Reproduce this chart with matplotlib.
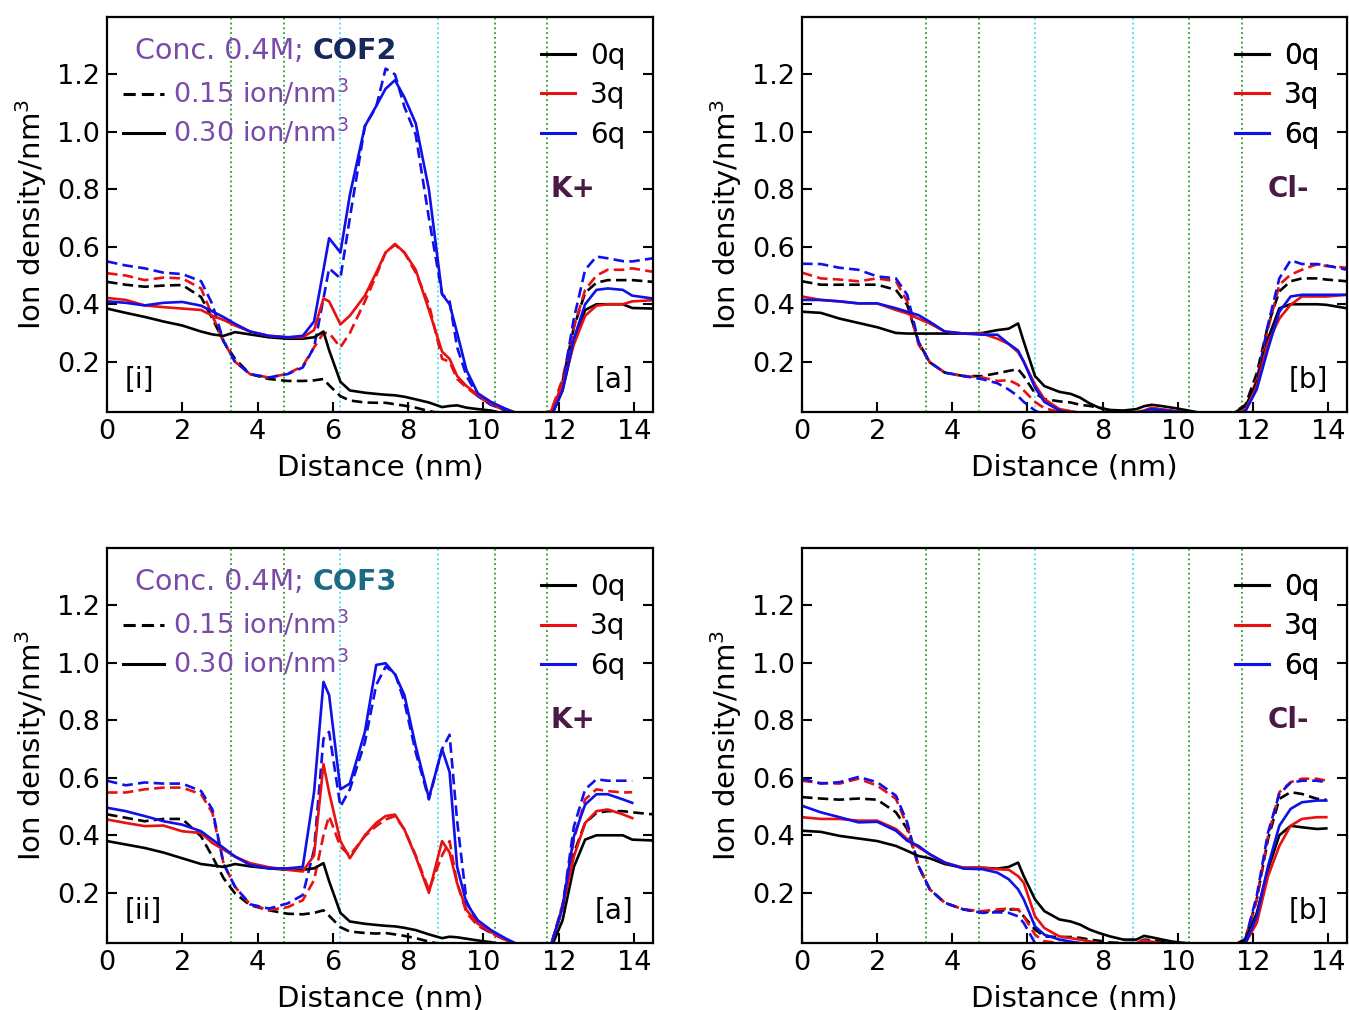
import numpy as np
import matplotlib
matplotlib.use("Agg")
import matplotlib.pyplot as plt
from matplotlib.lines import Line2D

nan = np.nan

# distance grid (nm), shared by every profile
x_nm = [0, 0.5, 1.0, 1.5, 2.0, 2.5, 2.8, 3.1, 3.4, 3.8, 4.3, 4.8, 5.2, 5.5, 5.75, 5.9, 6.2, 6.45,
        6.85, 7.15, 7.4, 7.65, 7.9, 8.2, 8.55, 8.9, 9.1, 9.3, 9.55, 9.85, 10.2, 10.6, 11.0, 11.4,
        11.8, 12.1, 12.4, 12.7, 13.0, 13.3, 13.7, 13.95, 14.5]

# COF2, K+  (015 = 0.15 ion/nm3 dashed, 030 = 0.30 ion/nm3 solid)
k2_0q_015 = [0.478, 0.468, 0.461, 0.465, 0.467, 0.425, 0.35, 0.27, 0.21, 0.157, 0.14, 0.133, 0.133, 0.135, 0.14, 0.118, 0.08, 0.065, 0.058, 0.057, 0.057, 0.052, 0.047, 0.04, 0.028, 0.02, 0.02, 0.02, 0.018, 0.016, 0.015, 0.01, 0.005, 0.003, 0.01, 0.13, 0.32, 0.44, 0.475, 0.484, 0.484, 0.484, 0.478]
k2_0q_030 = [0.385, 0.37, 0.356, 0.34, 0.326, 0.305, 0.295, 0.29, 0.303, 0.295, 0.285, 0.28, 0.28, 0.285, 0.305, 0.24, 0.13, 0.10, 0.092, 0.088, 0.085, 0.083, 0.078, 0.069, 0.058, 0.042, 0.046, 0.048, 0.04, 0.035, 0.03, 0.018, 0.01, 0.005, 0.01, 0.1, 0.27, 0.38, 0.40, 0.40, 0.40, 0.387, 0.385]
k2_3q_015 = [0.508, 0.50, 0.484, 0.493, 0.49, 0.455, 0.36, 0.27, 0.2, 0.157, 0.145, 0.158, 0.185, 0.25, 0.30, 0.30, 0.25, 0.30, 0.41, 0.50, 0.58, 0.607, 0.58, 0.51, 0.40, 0.21, 0.2, 0.14, 0.11, 0.08, 0.05, 0.03, 0.015, 0.005, 0.03, 0.14, 0.32, 0.45, 0.50, 0.52, 0.52, 0.525, 0.513]
k2_3q_030 = [0.422, 0.415, 0.396, 0.39, 0.385, 0.38, 0.36, 0.345, 0.326, 0.305, 0.29, 0.285, 0.285, 0.31, 0.42, 0.41, 0.33, 0.36, 0.43, 0.51, 0.58, 0.61, 0.58, 0.52, 0.38, 0.235, 0.21, 0.15, 0.115, 0.085, 0.055, 0.035, 0.015, 0.005, 0.03, 0.12, 0.26, 0.36, 0.395, 0.40, 0.40, 0.41, 0.414]
k2_6q_015 = [0.549, 0.535, 0.525, 0.51, 0.505, 0.48, 0.40, 0.27, 0.2, 0.157, 0.145, 0.157, 0.18, 0.25, 0.42, 0.525, 0.49, 0.70, 1.02, 1.087, 1.22, 1.20, 1.087, 0.99, 0.70, 0.435, 0.41, 0.25, 0.15, 0.08, 0.05, 0.03, 0.015, 0.005, 0.01, 0.12, 0.35, 0.52, 0.566, 0.56, 0.55, 0.549, 0.56]
k2_6q_030 = [0.41, 0.405, 0.396, 0.405, 0.408, 0.395, 0.375, 0.355, 0.332, 0.305, 0.29, 0.285, 0.29, 0.34, 0.52, 0.63, 0.58, 0.78, 1.02, 1.09, 1.15, 1.18, 1.12, 1.03, 0.80, 0.435, 0.40, 0.30, 0.17, 0.09, 0.06, 0.035, 0.015, 0.005, 0.01, 0.1, 0.28, 0.40, 0.45, 0.455, 0.45, 0.43, 0.42]

# COF2, Cl-
c2_0q_015 = [0.48, 0.468, 0.468, 0.468, 0.468, 0.45, 0.398, 0.268, 0.198, 0.162, 0.15, 0.15, 0.16, 0.168, 0.174, 0.15, 0.09, 0.07, 0.062, 0.058, 0.05, 0.046, 0.04, 0.03, 0.02, 0.02, 0.02, 0.025, 0.03, 0.028, 0.025, 0.02, 0.015, 0.015, 0.05, 0.16, 0.327, 0.445, 0.48, 0.49, 0.49, 0.486, 0.48]
c2_0q_030 = [0.374, 0.37, 0.35, 0.335, 0.32, 0.30, 0.298, 0.298, 0.298, 0.298, 0.298, 0.30, 0.31, 0.315, 0.333, 0.27, 0.15, 0.115, 0.095, 0.088, 0.075, 0.055, 0.04, 0.032, 0.03, 0.035, 0.045, 0.05, 0.046, 0.04, 0.032, 0.022, 0.015, 0.015, 0.045, 0.127, 0.28, 0.386, 0.40, 0.40, 0.40, 0.398, 0.386]
c2_3q_015 = [0.51, 0.49, 0.486, 0.48, 0.49, 0.48, 0.41, 0.26, 0.198, 0.162, 0.15, 0.145, 0.133, 0.136, 0.12, 0.1, 0.06, 0.038, 0.025, 0.02, 0.018, 0.016, 0.016, 0.018, 0.02, 0.022, 0.025, 0.032, 0.028, 0.025, 0.02, 0.016, 0.014, 0.012, 0.03, 0.139, 0.315, 0.468, 0.503, 0.52, 0.539, 0.533, 0.527]
c2_3q_030 = [0.427, 0.415, 0.41, 0.403, 0.403, 0.38, 0.368, 0.35, 0.333, 0.305, 0.298, 0.298, 0.28, 0.262, 0.233, 0.2, 0.12, 0.07, 0.035, 0.028, 0.022, 0.02, 0.02, 0.02, 0.02, 0.025, 0.03, 0.04, 0.035, 0.03, 0.022, 0.018, 0.015, 0.012, 0.033, 0.115, 0.268, 0.35, 0.398, 0.427, 0.427, 0.427, 0.433]
c2_6q_015 = [0.541, 0.54, 0.527, 0.52, 0.497, 0.49, 0.433, 0.27, 0.198, 0.162, 0.15, 0.139, 0.125, 0.103, 0.08, 0.06, 0.03, 0.015, 0.01, 0.01, 0.01, 0.01, 0.01, 0.012, 0.015, 0.018, 0.02, 0.025, 0.025, 0.025, 0.02, 0.016, 0.012, 0.012, 0.03, 0.13, 0.33, 0.49, 0.553, 0.54, 0.54, 0.535, 0.52]
c2_6q_030 = [0.415, 0.415, 0.41, 0.403, 0.403, 0.386, 0.374, 0.362, 0.339, 0.305, 0.298, 0.294, 0.294, 0.262, 0.239, 0.2, 0.11, 0.06, 0.03, 0.022, 0.02, 0.02, 0.02, 0.02, 0.02, 0.022, 0.028, 0.035, 0.032, 0.028, 0.022, 0.018, 0.015, 0.012, 0.028, 0.104, 0.245, 0.374, 0.427, 0.433, 0.433, 0.433, 0.433]

# COF3, K+
k3_0q_015 = [0.473, 0.461, 0.449, 0.457, 0.457, 0.396, 0.326, 0.25, 0.198, 0.157, 0.139, 0.127, 0.125, 0.13, 0.139, 0.12, 0.08, 0.065, 0.06, 0.058, 0.06, 0.055, 0.05, 0.042, 0.03, 0.02, 0.02, 0.02, 0.018, 0.016, 0.015, 0.01, 0.005, 0.003, 0.01, 0.15, 0.338, 0.443, 0.478, 0.484, 0.484, 0.48, 0.473]
k3_0q_030 = [0.38, 0.368, 0.356, 0.34, 0.32, 0.30, 0.295, 0.29, 0.30, 0.292, 0.285, 0.28, 0.28, 0.285, 0.303, 0.24, 0.13, 0.10, 0.092, 0.088, 0.085, 0.083, 0.078, 0.07, 0.055, 0.042, 0.047, 0.045, 0.04, 0.034, 0.028, 0.018, 0.01, 0.005, 0.01, 0.104, 0.29, 0.385, 0.40, 0.40, 0.40, 0.385, 0.382]
k3_3q_015 = [0.549, 0.549, 0.56, 0.566, 0.566, 0.543, 0.478, 0.30, 0.221, 0.16, 0.14, 0.15, 0.174, 0.244, 0.40, 0.467, 0.36, 0.33, 0.397, 0.432, 0.455, 0.467, 0.42, 0.33, 0.21, 0.33, 0.38, 0.233, 0.13, 0.085, 0.06, 0.035, 0.015, 0.005, 0.02, 0.16, 0.385, 0.525, 0.56, 0.554, 0.549, 0.55, nan]
k3_3q_030 = [0.455, 0.443, 0.432, 0.434, 0.414, 0.408, 0.373, 0.35, 0.326, 0.303, 0.289, 0.28, 0.274, 0.33, 0.648, 0.55, 0.38, 0.32, 0.40, 0.443, 0.467, 0.472, 0.42, 0.326, 0.20, 0.38, 0.34, 0.233, 0.14, 0.092, 0.063, 0.035, 0.015, 0.005, 0.02, 0.15, 0.326, 0.443, 0.484, 0.49, 0.473, 0.46, nan]
k3_6q_015 = [0.59, 0.574, 0.584, 0.58, 0.58, 0.554, 0.49, 0.30, 0.221, 0.16, 0.145, 0.163, 0.192, 0.35, 0.736, 0.76, 0.50, 0.56, 0.724, 0.923, 0.987, 0.964, 0.864, 0.689, 0.525, 0.70, 0.75, 0.45, 0.17, 0.09, 0.06, 0.035, 0.015, 0.005, 0.02, 0.15, 0.43, 0.56, 0.595, 0.59, 0.59, 0.59, nan]
k3_6q_030 = [0.496, 0.484, 0.467, 0.449, 0.437, 0.414, 0.385, 0.356, 0.326, 0.297, 0.285, 0.285, 0.29, 0.55, 0.934, 0.888, 0.56, 0.58, 0.76, 0.993, 0.999, 0.96, 0.888, 0.71, 0.53, 0.70, 0.62, 0.29, 0.163, 0.104, 0.07, 0.04, 0.015, 0.005, 0.02, 0.15, 0.396, 0.507, 0.543, 0.543, 0.525, 0.513, nan]

# COF3, Cl-
c3_0q_015 = [0.533, 0.528, 0.524, 0.528, 0.524, 0.48, 0.422, 0.293, 0.212, 0.165, 0.142, 0.132, 0.135, 0.142, 0.142, 0.118, 0.072, 0.048, 0.046, 0.046, 0.043, 0.037, 0.033, 0.027, 0.025, 0.025, 0.037, 0.035, 0.03, 0.025, 0.02, 0.015, 0.012, 0.01, 0.04, 0.177, 0.387, 0.527, 0.55, 0.544, 0.527, 0.524, nan]
c3_0q_030 = [0.416, 0.412, 0.398, 0.389, 0.38, 0.363, 0.346, 0.328, 0.32, 0.30, 0.287, 0.287, 0.284, 0.29, 0.305, 0.258, 0.177, 0.136, 0.107, 0.10, 0.089, 0.072, 0.06, 0.048, 0.037, 0.037, 0.05, 0.045, 0.038, 0.03, 0.025, 0.02, 0.015, 0.012, 0.035, 0.13, 0.282, 0.40, 0.433, 0.428, 0.422, 0.424, nan]
c3_3q_015 = [0.59, 0.582, 0.58, 0.597, 0.573, 0.527, 0.433, 0.293, 0.212, 0.165, 0.142, 0.136, 0.142, 0.145, 0.142, 0.118, 0.054, 0.031, 0.025, 0.02, 0.018, 0.016, 0.015, 0.015, 0.016, 0.02, 0.03, 0.028, 0.024, 0.02, 0.016, 0.014, 0.012, 0.01, 0.04, 0.177, 0.398, 0.55, 0.585, 0.597, 0.597, 0.59, nan]
c3_3q_030 = [0.463, 0.457, 0.457, 0.451, 0.451, 0.422, 0.387, 0.358, 0.334, 0.305, 0.287, 0.287, 0.282, 0.28, 0.258, 0.235, 0.118, 0.077, 0.048, 0.042, 0.037, 0.031, 0.025, 0.02, 0.02, 0.025, 0.035, 0.03, 0.025, 0.02, 0.018, 0.015, 0.012, 0.01, 0.025, 0.095, 0.258, 0.363, 0.433, 0.457, 0.463, 0.463, nan]
c3_6q_015 = [0.597, 0.58, 0.585, 0.603, 0.585, 0.538, 0.445, 0.293, 0.212, 0.165, 0.142, 0.13, 0.132, 0.13, 0.118, 0.095, 0.025, 0.01, 0.008, 0.008, 0.008, 0.008, 0.008, 0.01, 0.012, 0.015, 0.022, 0.02, 0.018, 0.015, 0.012, 0.01, 0.01, 0.01, 0.04, 0.19, 0.41, 0.544, 0.583, 0.59, 0.59, 0.585, nan]
c3_6q_030 = [0.503, 0.48, 0.463, 0.445, 0.447, 0.416, 0.381, 0.363, 0.334, 0.305, 0.284, 0.282, 0.27, 0.247, 0.212, 0.177, 0.083, 0.054, 0.037, 0.03, 0.025, 0.02, 0.018, 0.015, 0.015, 0.018, 0.025, 0.022, 0.02, 0.018, 0.015, 0.013, 0.012, 0.01, 0.025, 0.118, 0.293, 0.433, 0.492, 0.515, 0.521, 0.521, nan]

charges = ['0q', '3q', '6q']
charge_colors = ['black', '#e81010', '#1010e8']
conc_labels = ['0.15 ion/nm$^3$', '0.30 ion/nm$^3$']
green_lines = [3.3, 4.7, 10.3, 11.7]
cyan_lines = [6.2, 8.8]

panels = [
    # position, dashed set, solid set, ion (+ its x in axes units), corner tag, roman tag, COF name/colour
    ([0.0793, 0.5921, 0.4047, 0.3911], [k2_0q_015, k2_3q_015, k2_6q_015],
     [k2_0q_030, k2_3q_030, k2_6q_030], ('K+', 0.895), '[a]', '[i]', ('COF2', '#16285c')),
    ([0.5945, 0.5921, 0.4040, 0.3911], [c2_0q_015, c2_3q_015, c2_6q_015],
     [c2_0q_030, c2_3q_030, c2_6q_030], ('Cl-', 0.93), '[b]', None, None),
    ([0.0793, 0.0663, 0.4047, 0.3911], [k3_0q_015, k3_3q_015, k3_6q_015],
     [k3_0q_030, k3_3q_030, k3_6q_030], ('K+', 0.895), '[a]', '[ii]', ('COF3', '#1d6a86')),
    ([0.5945, 0.0663, 0.4040, 0.3911], [c3_0q_015, c3_3q_015, c3_6q_015],
     [c3_0q_030, c3_3q_030, c3_6q_030], ('Cl-', 0.93), '[b]', None, None),
]

purple = '#7a4aa8'
ion_color = '#4a1a46'

fig = plt.figure(figsize=(13.49, 10.10), dpi=100)

for pos, dashed, solid, ion, tag, roman, cof in panels:
    ax = fig.add_axes(pos)

    # guide lines for the pore walls
    for xv in green_lines:
        ax.axvline(xv, color='#2e9a2e', linestyle=':', linewidth=1.3, zorder=1)
    for xv in cyan_lines:
        ax.axvline(xv, color='#40e0f0', linestyle=':', linewidth=1.3, zorder=1)

    for ys, color in zip(dashed, charge_colors):
        ax.plot(x_nm, ys, color=color, linestyle='--', linewidth=1.9, dashes=(4, 2))
    for ys, color in zip(solid, charge_colors):
        ax.plot(x_nm, ys, color=color, linestyle='-', linewidth=1.9)

    ax.set_xlim(0, 14.5)
    ax.set_ylim(0.025, 1.4)
    ax.set_xticks([0, 2, 4, 6, 8, 10, 12, 14])
    ax.set_yticks([0.2, 0.4, 0.6, 0.8, 1.0, 1.2])
    ax.set_yticklabels(['0.2', '0.4', '0.6', '0.8', '1.0', '1.2'])
    ax.tick_params(direction='in', length=7, width=1.5, labelsize=19.5, right=True, pad=5)
    for sp in ax.spines.values():
        sp.set_linewidth(1.6)
    ax.set_xlabel('Distance (nm)', fontsize=21, labelpad=6)
    ax.set_ylabel('Ion density/nm$^3$', fontsize=21, labelpad=6)

    # charge legend
    handles = [Line2D([], [], color=c, linewidth=2.2) for c in charge_colors]
    leg = ax.legend(handles, charges, loc='upper right', frameon=False, fontsize=20,
                    handlelength=1.2, handletextpad=0.55, labelspacing=0.42,
                    borderaxespad=0.2, bbox_to_anchor=(0.98, 0.98))
    ax.add_artist(leg)

    ax.text(ion[1], 0.565, ion[0], transform=ax.transAxes, fontsize=20, fontweight='bold',
            color=ion_color, ha='right', va='center')
    ax.text(0.965, 0.08, tag, transform=ax.transAxes, fontsize=20, ha='right', va='center')

    if roman is not None:
        ax.text(0.033, 0.08, roman, transform=ax.transAxes, fontsize=20, ha='left', va='center')
        t1 = ax.text(0.052, 0.915, 'Conc. 0.4M; ', transform=ax.transAxes, fontsize=20.5,
                     color=purple, ha='left', va='center')
        ax.annotate(cof[0], xy=(1, 0), xycoords=t1, va='bottom', ha='left', fontsize=20.5,
                    fontweight='bold', color=cof[1])
        conc_handles = [Line2D([], [], color='black', linestyle='--', linewidth=2.2, dashes=(4, 2)),
                        Line2D([], [], color='black', linestyle='-', linewidth=2.2)]
        ax.legend(conc_handles, conc_labels, loc='upper left', frameon=False,
                  handlelength=1.5, handletextpad=0.35, labelspacing=0.3,
                  labelcolor=purple, prop={'size': 19.5},
                  bbox_to_anchor=(-0.015, 0.905))

fig.savefig('out.png', dpi=100)
